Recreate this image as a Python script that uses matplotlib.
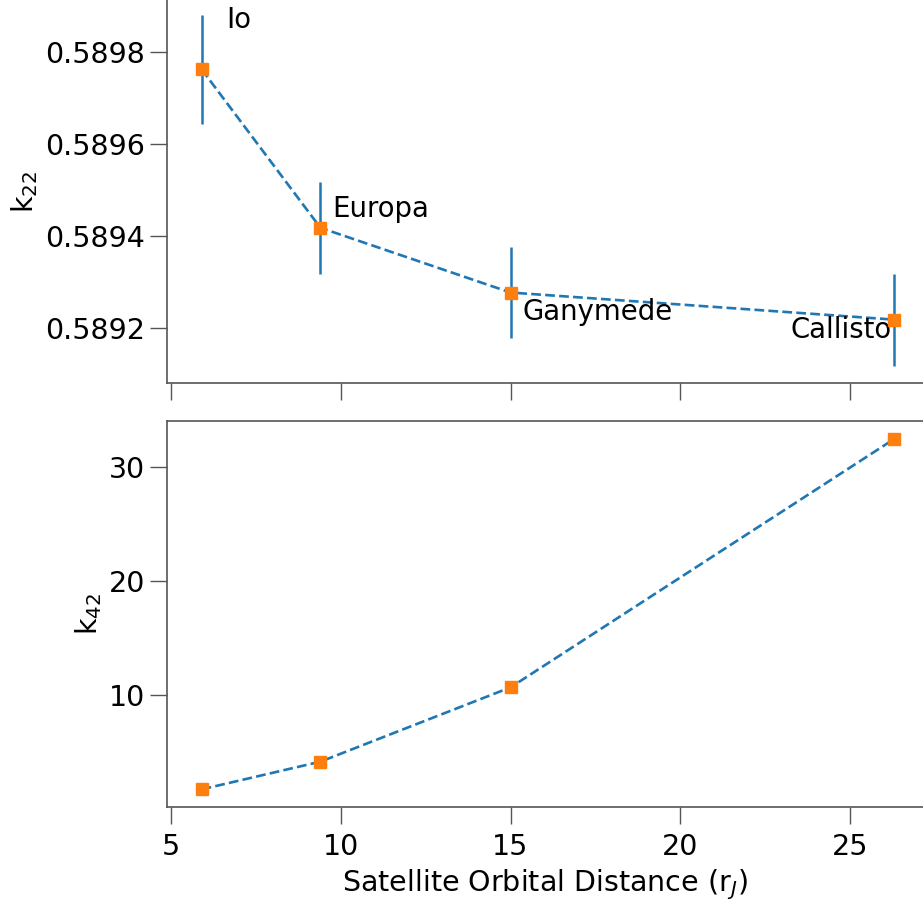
import numpy as np
import matplotlib
matplotlib.use("Agg")
import matplotlib.pyplot as plt

# orbital distance of the Galilean moons (Jupiter radii)
moons = ["Io", "Europa", "Ganymede", "Callisto"]
dist = [5.9, 9.4, 15.0, 26.3]

# Love numbers
k22 = [0.589763, 0.589418, 0.589277, 0.589218]
k22_err = [0.000118, 0.0001, 0.0001, 0.0001]
k42 = [1.75, 4.18, 10.7, 32.5]

xticks = [5, 10, 15, 20, 25]
k22_ticks = [0.5892, 0.5894, 0.5896, 0.5898]
k42_ticks = [10, 20, 30]

# label placement (data coords) and alignment for each moon name
lab_x = [6.62, 9.74, 15.34, 26.22]
lab_y = [0.589853, 0.589442, 0.589217, 0.589177]
lab_ha = ["left", "left", "left", "right"]

plt.rcParams["font.size"] = 20.5
spine_col = "#555555"

fig = plt.figure(figsize=(9.23, 9.05), dpi=100)
ax1 = fig.add_axes([167 / 923, 1 - 383 / 905, 1 - 167 / 923, 383 / 905])
ax2 = fig.add_axes([167 / 923, 1 - 807 / 905, 1 - 167 / 923, (807 - 421) / 905])

ax1.errorbar(dist, k22, yerr=k22_err, fmt="none", ecolor="tab:blue", elinewidth=1.8, zorder=2)
ax1.plot(dist, k22, "--", color="tab:blue", lw=1.9, zorder=3)
ax1.plot(dist, k22, "s", color="tab:orange", ms=8.5, zorder=4)
for name, x, y, ha in zip(moons, lab_x, lab_y, lab_ha):
    ax1.text(x, y, name, ha=ha, va="baseline", fontsize=19.8)

ax2.plot(dist, k42, "--", color="tab:blue", lw=1.9, zorder=3)
ax2.plot(dist, k42, "s", color="tab:orange", ms=8.5, zorder=4)

for ax in (ax1, ax2):
    ax.set_xlim(4.88, 27.15)
    ax.set_xticks(xticks)
    ax.tick_params(length=12, width=1, color=spine_col, labelcolor="black")
    ax.tick_params(axis="x", pad=6.5)
    for s in ax.spines.values():
        s.set_color(spine_col)
        s.set_linewidth(1.2)
    ax.spines["right"].set_visible(False)

ax1.spines["top"].set_visible(False)
ax1.set_ylim(0.58908, 0.589914)
ax1.set_yticks(k22_ticks)
ax1.set_yticklabels([f"{t:.4f}" for t in k22_ticks])
ax1.tick_params(axis="x", labelbottom=False)
ax1.set_ylabel("k$_{22}$")

ax2.set_ylim(0.2, 34.08)
ax2.set_yticks(k42_ticks)
ax2.set_ylabel("k$_{42}$")
ax2.set_xlabel("Satellite Orbital Distance (r$_J$)", labelpad=5)

fig.savefig("out.png", dpi=100)
